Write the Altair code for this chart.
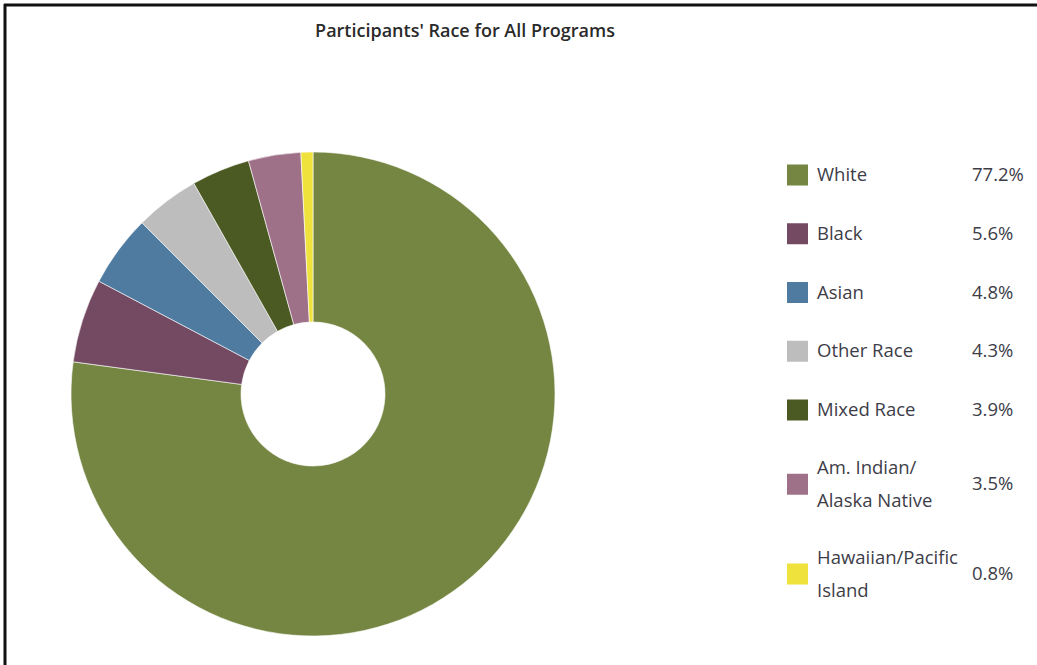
import altair as alt
import pandas as pd

races = ["White", "Black", "Asian", "Other Race", "Mixed Race",
         "Am. Indian/\nAlaska Native", "Hawaiian/Pacific\nIsland"]
keys = ["White", "Black", "Asian", "Other Race", "Mixed Race",
        "Am. Indian/Alaska Native", "Hawaiian/Pacific Island"]
values = [77.2, 5.6, 4.8, 4.3, 3.9, 3.5, 0.8]
pct_labels = ["77.2%", "5.6%", "4.8%", "4.3%", "3.9%", "3.5%", "0.8%"]
colors = ["#758643", "#744a62", "#4f7ba1", "#bdbdbd", "#4a5a22", "#9f7189", "#efe23c"]
title_text = "Participants' Race for All Programs"

# layout of the custom legend (row centres derived from line counts)
first_row = 175
row_step = 58.75
line_h = 33
extra_gap = 15.5
ys, tys = [], []
y = first_row
prev_extra = 0
for i, lab in enumerate(races):
    extra = lab.count("\n")
    if i > 0:
        y += row_step + extra_gap * (prev_extra + extra)
    ys.append(y)
    tys.append(y - extra * line_h / 2)
    prev_extra = extra

df = pd.DataFrame({
    "race": keys,
    "label": races,
    "value": values,
    "pct": pct_labels,
    "idx": list(range(len(keys))),
    "ly": ys,
    "ty": tys,
})

color_scale = alt.Scale(domain=keys, range=colors)
base = alt.Chart(df)

pie = base.mark_arc(outerRadius=242, innerRadius=72, stroke="white", strokeWidth=0.6).encode(
    theta=alt.Theta("value:Q", stack=True),
    color=alt.Color("race:N", scale=color_scale, legend=None),
    order=alt.Order("idx:Q", sort="ascending"),
    x=alt.value(313),
    y=alt.value(394),
)

swatch = base.mark_square(size=441, opacity=1).encode(
    x=alt.value(797.5),
    y=alt.Y("ly:Q", scale=None, axis=None),
    color=alt.Color("race:N", scale=color_scale, legend=None),
)

labels = base.mark_text(align="left", baseline="middle", font="Open Sans", fontSize=18.5,
                        color="#3d3d48", lineBreak="\n", lineHeight=33).encode(
    x=alt.value(817),
    y=alt.Y("ty:Q", scale=None, axis=None),
    text="label:N",
)

pcts = base.mark_text(align="left", baseline="middle", font="Open Sans", fontSize=18.5,
                      color="#3d3d48").encode(
    x=alt.value(972),
    y=alt.Y("ly:Q", scale=None, axis=None),
    text="pct:N",
)

title = alt.Chart(pd.DataFrame({"t": [title_text]})).mark_text(
    align="center", baseline="middle", font="Open Sans", fontSize=18, fontWeight=600,
    color="#2a2a2a").encode(x=alt.value(465), y=alt.value(32), text="t:N")

top_border = alt.Chart(pd.DataFrame({"t": [0]})).mark_rule(color="#111111", strokeWidth=3).encode(
    x=alt.value(4), x2=alt.value(1037), y=alt.value(5))
left_border = alt.Chart(pd.DataFrame({"t": [0]})).mark_rule(color="#111111", strokeWidth=3).encode(
    x=alt.value(5), y=alt.value(4), y2=alt.value(665))

chart = alt.layer(pie, swatch, labels, pcts, title, top_border, left_border).properties(
    width=1037, height=665, padding=0, autosize=alt.AutoSizeParams(type="none"),
    background="white",
).configure_view(stroke=None)

chart.save("out.html", embed_options={"renderer": "svg", "actions": False})
